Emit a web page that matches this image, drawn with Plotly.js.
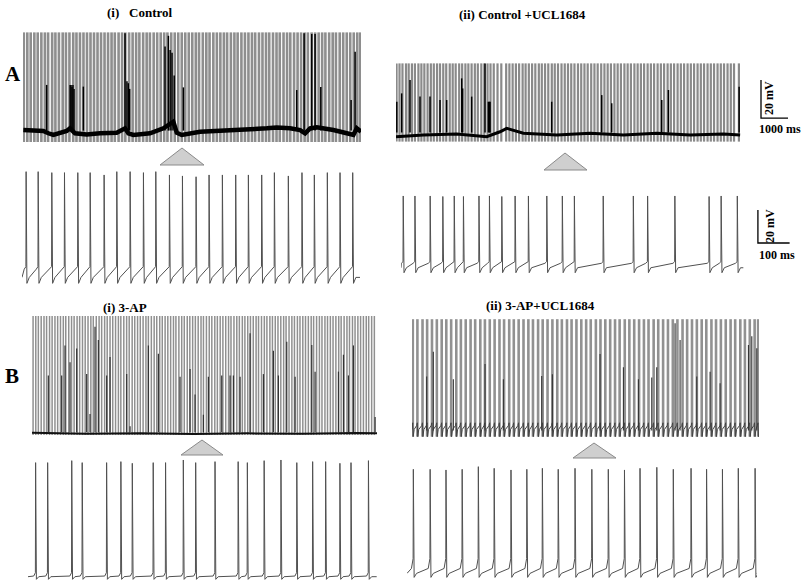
<!DOCTYPE html>
<html><head><meta charset="utf-8">
<script src="https://cdn.plot.ly/plotly-3.0.1.min.js"></script>
<style>html,body{margin:0;padding:0;background:#fff;}#chart{width:806px;height:588px;}</style>
</head><body><div id="chart"></div>
<script>
// ---------------- DATA (ms, mV) ----------------
// A(i) Control, long trace
const ctrlLongSpikes = [30,160,285,420,545,680,810,930,1080,1200,1330,1470,1590,1720,1860,1980,2110,2240,2370,2500,2630,2760,2890,3020,3150,3280,3400,3540,3670,3790,3930,4060,4190,4310,4450,4580,4700,4840,4970,5100,5230,5350,5490,5620,5750,5880,6010,6140,6270,6400,6520,6660,6790,6910,7050,7180,7310,7440,7560,7700,7830,7950,8090,8220,8350,8480,8600,8740,8870,9000,9120,9260,9390,9510,9650,9780,9900,10040,10170,10300,10430,10550,10690,10820,10950,11080,11200,11340,11470,11590,11730,11860,11990,12120,12250,12380,12490];
const ctrlLongPartialT = [877,1745,1780,1815,1850,1890,2235,3779,3850,3900,3950,5261,5385,5450,5520,5600,5940,10139,10411,10695,10818,11030,12152,12301];
const ctrlLongPartialV = [-49.9,-50,-50,-51,-50,-52,-50.8,-22.7,-48,-49,-52,-29.7,-24,-31.5,-33,-45,-51.2,-52.6,-22.7,-23,-23,-51,-57.8,-32.4];
const ctrlLongBaseT = [12,383,753,939,1124,1618,1741,1927,2359,2853,3470,3779,3903,4088,4705,5199,5385,5570,5693,5879,6558,7175,7793,8410,9028,9398,9892,10263,10448,10633,10880,11251,11498,11992,12239,12362,12519];
const ctrlLongBaseV = [-73.7,-74.0,-74.2,-75.4,-76.3,-74.2,-72.8,-75.4,-76.0,-75.4,-75.1,-72.8,-75.4,-76.3,-75.4,-72.8,-71.0,-69.3,-75.1,-76.3,-74.6,-74.0,-73.7,-73.3,-72.8,-72.3,-72.8,-73.7,-75.4,-72.8,-72.3,-72.8,-73.7,-75.4,-76.3,-72.8,-74.6];

// A(ii) Control + UCL1684, long trace
const uclLongSpikes = [20,130,240,370,470,590,700,830,940,1050,1170,1290,1400,1520,1630,1750,1860,1990,2100,2210,2340,2450,2570,2680,2800,2920,3030,3160,3270,3390,3500,3620,3760,3900,4080,4200,4320,4440,4560,4690,4800,4920,5040,5160,5290,5400,5520,5640,5770,5880,6000,6130,6250,6370,6490,6610,6740,6860,6980,7100,7230,7350,7470,7600,7720,7840,7960,8090,8210,8330,8460,8580,8700,8830,8950,9070,9190,9320,9440,9560,9690,9810,9930,10060,10180,10300,10430,10550,10670,10800,10920,11040,11170,11290,11410,11540,11660,11780,11910,12030,12150,12280,12400,12520,12700];
const uclLongPartialT = [30,210,519,889,1260,1630,1877,2433,2470,2803,3297,3421,3460,3483,5767,7620,7990,9843,10090,12708];
const uclLongPartialV = [-58.8,-54.4,-47.4,-56.1,-56.1,-57.9,-57.9,-46.5,-51.8,-56.1,-38.6,-58.8,-58.8,-58.8,-58.8,-55.3,-59.6,-57.9,-52.6,-50.9];
const uclLongBaseT = [0,1013,2248,3359,3853,4100,4718,5953,7188,7805,8423,9658,10893,12128,12745];
const uclLongBaseV = [-77.2,-76.3,-75.8,-77.2,-74.6,-72.8,-75.4,-76.3,-75.4,-75.8,-76.3,-75.4,-76.3,-75.8,-76.3];

// A(i) Control, expanded
const ctrlShortSpikes = [13,51,94,134,176,215,259,299,341,383,422,465,506,549,590,632,674,714,756,796,840,883,922,963,1003,1043];
const ctrlShortPeaks = [-11.9,-11.9,-12.5,-12.5,-12.5,-12.5,-13.9,-11.9,-11.9,-12.5,-11.9,-13.9,-14.5,-15.0,-13.9,-13.9,-13.9,-13.9,-13.9,-12.5,-14.5,-12.5,-13.9,-12.5,-12.5,-12.5];
const ctrlShortLevels = [-69.5,-79.6,-76.0,-71.0]; // threshold, AHP trough, post-AHP, pre-spike

// A(ii) Control + UCL1684, expanded
const uclShortSpikes = [7,44,92,132,168,197,246,279,318,360,402,460,509,547,638,733,778,864,972,1010,1061];
const uclShortPeaks = [-31.5,-31.5,-31.5,-31.8,-31.5,-31.8,-31.5,-31.5,-31.8,-31.5,-31.5,-31.5,-31.5,-31.5,-31.5,-31.5,-31.5,-31.5,-31.8,-31.5,-31.5];
const uclShortLevels = [-71.3,-78.0,-75.0,-72.3];

// B(i) 3-AP, long trace
const apLongSpikes = [40,140,235,340,445,540,650,745,850,950,1055,1160,1250,1360,1465,1560,1670,1765,1870,1970,2075,2180,2270,2380,2485,2580,2690,2785,2890,2990,3095,3200,3290,3400,3505,3600,3710,3805,3910,4010,4115,4220,4310,4420,4525,4620,4730,4825,4930,5030,5135,5240,5330,5440,5545,5640,5750,5845,5950,6050,6155,6260,6350,6460,6565,6660,6770,6865,6970,7070,7175,7280,7370,7480,7585,7680,7790,7885,7990,8090,8195,8300,8390,8500,8605,8700,8810,8905,9010,9110,9215,9320,9410,9520,9625,9720,9830,9925,10030,10130,10235,10340,10430,10540,10645,10740,10850,10945,11050,11150,11255,11360,11450,11560,11665,11760,11870,11965,12070,12170,12275,12380,12470,12580,12680];
const apLongPartialT = [605,1099,1223,1408,1655,2025,2149,2334,2458,2766,2890,3507,3631,4310,4681,5483,5854,6039,6348,6533,7027,7336,7459,7706,8077,8571,8941,9126,9435,9744,10362,10485,11350,11535,11720,11905,12708];
const apLongPartialV = [-48.1,-48.1,-32.3,-41.1,-33.9,-47.4,-68.4,-22.4,-29.5,-48.1,-38.4,-47.4,-74.9,-32.3,-36.7,-48.8,-44.7,-58.2,-68.8,-48.8,-48.1,-48.1,-48.1,-48.8,-25.9,-47.4,-35.1,-48.1,-30.4,-48.8,-32.1,-46.1,-46.1,-37.2,-48.1,-32.3,-70.0];
const apLongBaseT = [0,2000,4000,6000,8000,10000,12000,12778];
const apLongBaseV = [-78.3,-78.8,-78.5,-79.0,-78.6,-78.8,-78.4,-78.6];

// B(ii) 3-AP + UCL1684, long trace
const apUclLongSpikes = [30,200,390,560,740,920,1100,1270,1450,1640,1810,1990,2170,2340,2530,2700,2880,3060,3240,3410,3600,3770,3950,4130,4310,4480,4670,4840,5020,5200,5380,5550,5740,5910,6090,6270,6450,6620,6810,6980,7160,7340,7520,7690,7880,8050,8230,8410,8590,8760,8950,9120,9300,9480,9660,9830,10020,10190,10370,10550,10730,10900,11090,11260,11440,11620,11800,11970,12160,12330,12510,12690,12820];
const apUclLongPartialT = [543,790,1531,2705,3384,4804,5199,6965,7830,8386,8880,9065,9744,9929,10547,11041,11411,12461,12585,12770];
const apUclLongPartialV = [-47.7,-34.6,-49.1,-41.1,-49.1,-47.4,-46.5,-35.8,-42.8,-49.1,-48.2,-42.8,-19.6,-28.4,-47.7,-45.1,-51.2,-31.1,-26.5,-32.8];
const apUclLongLevels = [-72.0,-79.3,-75.5,-73.5];

// B(i) 3-AP, expanded
const apShortSpikes = [24,62,138,171,248,293,329,395,434,490,529,590,663,692,745,798,848,898,939,984,1019,1074];
const apShortPeaks = [-8.9,-8.9,-7.7,-8.9,-8.9,-8.3,-9.3,-8.9,-8.9,-7.3,-8.9,-8.3,-8.3,-8.9,-7.7,-7.3,-8.9,-8.3,-8.3,-9.3,-8.9,-7.7];
const apShortLevels = [-75.6,-79.6,-78.0,-77.6];

// B(ii) 3-AP + UCL1684, expanded
const apUclShortSpikes = [20,73,123,174,225,275,328,378,427,477,530,583,635,686,735,788,840,896,945,995,1045,1098];
const apUclShortPeaks = [-12.9,-12.9,-13.3,-12.9,-11.3,-12.3,-13.3,-12.9,-12.3,-12.9,-12.3,-12.9,-12.9,-13.3,-12.3,-11.7,-12.9,-12.3,-12.9,-12.9,-12.3,-12.3];
const apUclShortLevels = [-67.0,-78.4,-76.0,-73.0];

// scale bars [mV, ms]
const scaleLong = [20, 1000];
const scaleShort = [20, 100];

// titles
const labels = ["(i)\u00a0\u00a0\u00a0Control", "(ii) Control +UCL1684", "(i) 3-AP", "(ii) 3-AP+UCL1684"];

// ---------------- LAYOUT HELPERS ----------------
const W = 806, H = 588;
const px2x = p => p / W, px2y = p => 1 - p / H;
const panels = [
  {box:[23,361,32,142], xr:[0,12519], yr:[-80,-22.0]},
  {box:[396,790,63,142], xr:[0,14593], yr:[-80,-38.4]},
  {box:[22,360,170,284], xr:[0,1066], yr:[-80,-10.9]},
  {box:[401,795,194,276], xr:[0,1243], yr:[-80,-30.3]},
  {box:[32,377,316,436], xr:[0,12778], yr:[-80,-16.8]},
  {box:[412,759,319,438], xr:[0,12852], yr:[-80,-17.4]},
  {box:[28,377,459,580], xr:[0,1101], yr:[-80,-6.7]},
  {box:[407,757,466,580], xr:[0,1104], yr:[-80,-10.9]}
];
const ax = i => (i === 0 ? '' : String(i + 1));

function bars(times, bottom, tops, topConst) {
  const x = [], y = [];
  times.forEach((t, i) => { x.push(t, t, null); y.push(bottom, tops ? tops[i] : topConst, null); });
  return {x, y};
}
// membrane potential waveform from spike times; lv=[thr, trough, after, pre]; k = time scale
function wave(sp, pk, lv, t0, t1, k, spikes) {
  const x = [t0], y = [lv[2]];
  sp.forEach((t, i) => {
    x.push(t - 6 * k, t - 0.7 * k); y.push(lv[3], lv[0]);
    if (spikes) { x.push(t); y.push(pk[i]); }
    x.push(t + 2.5 * k, t + 10 * k); y.push(lv[1], lv[2]);
  });
  x.push(t1); y.push(lv[2]);
  return {x, y};
}

const traces = [];
function add(i, d, color, width) {
  traces.push({type:'scatter', mode:'lines', x:d.x, y:d.y, xaxis:'x'+ax(i), yaxis:'y'+ax(i),
    line:{color:color, width:width}, connectgaps:false, hoverinfo:'skip', showlegend:false});
}

// Panel 1
add(0, bars(ctrlLongSpikes, -80, null, -22.2), '#8e8e8e', 2.6);
add(0, {x:ctrlLongBaseT, y:ctrlLongBaseV}, '#000', 4.5);
add(0, bars(ctrlLongPartialT, -74, ctrlLongPartialV), '#000', 1.5);
// Panel 2
add(1, bars(uclLongSpikes, -79.8, null, -38.6), '#8a8a8a', 2.2);
add(1, {x:uclLongBaseT, y:uclLongBaseV}, '#000', 3);
add(1, bars(uclLongPartialT, -75, uclLongPartialV), '#000', 1.5);
add(1, {x:[13519,13519,13519+scaleLong[1]], y:[-67.4+scaleLong[0],-67.4,-67.4]}, '#000', 1.3);
// Panel 3
add(2, wave(ctrlShortSpikes, ctrlShortPeaks, ctrlShortLevels, 0, 1066, 1, true), '#505050', 1);
// Panel 4
add(3, wave(uclShortSpikes, uclShortPeaks, uclShortLevels, 0, 1080, 1, true), '#505050', 1);
add(3, {x:[1126,1126,1126+scaleShort[1]], y:[-60+scaleShort[0],-60,-60]}, '#000', 1.3);
// Panel 5
add(4, bars(apLongSpikes, -79.5, null, -16.8), '#909090', 1.5);
add(4, {x:apLongBaseT, y:apLongBaseV}, '#111', 2);
add(4, bars(apLongPartialT, -78, apLongPartialV), '#333', 1.2);
// Panel 6
add(5, bars(apUclLongSpikes, -79.3, null, -17.5), '#919191', 2.6);
add(5, wave(apUclLongSpikes, null, apUclLongLevels, 0, 12852, 5, false), '#444', 1);
add(5, bars(apUclLongPartialT, -76, apUclLongPartialV), '#333', 1.1);
// Panel 7
add(6, wave(apShortSpikes, apShortPeaks, apShortLevels, 0, 1100, 1, true), '#505050', 1);
// Panel 8
add(7, wave(apUclShortSpikes, apUclShortPeaks, apUclShortLevels, 0, 1103, 1, true), '#505050', 1);

const layout = {width:W, height:H, margin:{l:0,r:0,t:0,b:0}, paper_bgcolor:'#fff', plot_bgcolor:'rgba(0,0,0,0)',
  showlegend:false, annotations:[], shapes:[]};
panels.forEach((p, i) => {
  layout['xaxis'+ax(i)] = {domain:[px2x(p.box[0]), px2x(p.box[1])], range:p.xr, visible:false, fixedrange:true, anchor:'y'+ax(i)};
  layout['yaxis'+ax(i)] = {domain:[px2y(p.box[3]), px2y(p.box[2])], range:p.yr, visible:false, fixedrange:true, anchor:'x'+ax(i)};
});

const serif = 'Liberation Serif, Times New Roman, serif';
function txt(s, x, y, size, angle, anchor) {
  layout.annotations.push({text:'<b>'+s+'</b>', x:px2x(x), y:px2y(y), xref:'paper', yref:'paper', showarrow:false,
    xanchor:anchor||'center', yanchor:'middle', textangle:angle||0, font:{family:serif, size:size, color:'#000'}});
}
txt(labels[0], 140, 12, 13);
txt(labels[1], 522, 15, 13);
txt(labels[2], 125, 307, 13);
txt(labels[3], 540, 305, 13);
txt('A', 13, 74, 21);
txt('B', 12, 376, 21);
txt(scaleLong[0] + ' mV', 769, 98, 12, -90);
txt(scaleLong[1] + ' ms', 780, 129, 12);
txt(scaleShort[0] + ' mV', 770, 226, 12, -90);
txt(scaleShort[1] + ' ms', 777, 255, 12);

function tri(ax_, ay, bx0, bx1, by) {
  layout.shapes.push({type:'path', xref:'paper', yref:'paper',
    path:`M ${px2x(ax_)},${px2y(ay)} L ${px2x(bx1)},${px2y(by)} L ${px2x(bx0)},${px2y(by)} Z`,
    fillcolor:'#cfcfcf', line:{color:'#8a8a8a', width:1}});
}
tri(182, 148, 160, 204, 165);
tri(565, 153, 544, 587, 170);
tri(202, 440, 181, 223, 455);
tri(594, 443, 573, 616, 458);

Plotly.newPlot('chart', traces, layout, {staticPlot:true, displayModeBar:false});
</script></body></html>
